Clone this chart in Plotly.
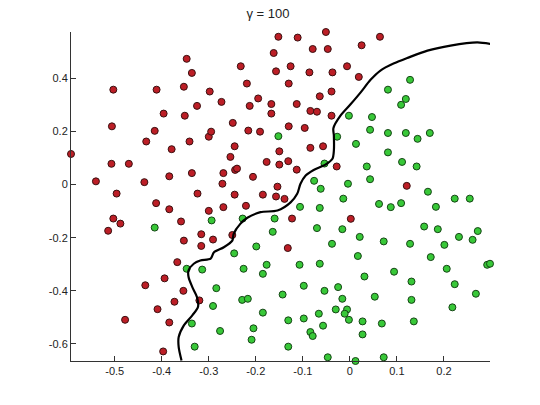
import plotly.graph_objects as go

red_x = [-0.347, -0.336, -0.503, -0.411, -0.353, -0.298, -0.325, -0.396, -0.351, -0.506,
         -0.415, -0.433, -0.341, -0.379, -0.300, -0.593, -0.507, -0.470, -0.336, -0.384,
         -0.540, -0.437, -0.496, -0.324, -0.412, -0.384, -0.300, -0.503, -0.488, -0.359,
         -0.514, -0.353, -0.316, -0.316, -0.367, -0.394, -0.435, -0.354, -0.373, -0.320,
         -0.409, -0.478, -0.384, -0.397,
         -0.051, -0.152, -0.111, -0.079, -0.047, -0.162, -0.232, -0.126, -0.006, -0.157,
         -0.086, -0.037, -0.219, -0.130, -0.039, -0.064, -0.195, -0.273, -0.213, -0.167,
         -0.113, -0.167, -0.084, -0.070, -0.039, -0.249, -0.130, -0.096, -0.216, -0.191,
         -0.295,
         0.064, 0.025, 0.019, 0.121, 0.002, -0.132,
         -0.245, -0.150, -0.084, -0.057, -0.254, -0.177, -0.150, -0.131, -0.244, -0.240,
         -0.028, -0.113, -0.269, -0.206, -0.271, -0.154, -0.245, -0.185, -0.157, -0.139,
         -0.221, -0.269, -0.123, -0.291, -0.250]
red_y = [0.473, 0.420, 0.357, 0.357, 0.368, 0.350, 0.296, 0.267, 0.259, 0.219,
         0.202, 0.162, 0.162, 0.133, 0.180, 0.115, 0.078, 0.078, 0.043, 0.031,
         0.012, 0.009, -0.034, -0.034, -0.070, -0.093, -0.099, -0.128, -0.147, -0.139,
         -0.174, -0.211, -0.187, -0.231, -0.292, -0.353, -0.379, -0.400, -0.441, -0.436,
         -0.469, -0.509, -0.519, -0.628,
         0.574, 0.556, 0.553, 0.510, 0.510, 0.495, 0.445, 0.445, 0.445, 0.426,
         0.422, 0.422, 0.380, 0.380, 0.350, 0.332, 0.324, 0.311, 0.296, 0.303,
         0.303, 0.267, 0.277, 0.274, 0.259, 0.232, 0.219, 0.213, 0.203, 0.199,
         0.199,
         0.556, 0.524, 0.405, -0.005, -0.129, -0.239,
         0.144, 0.125, 0.138, 0.144, 0.104, 0.085, 0.075, 0.088, 0.055, 0.060,
         0.068, 0.056, 0.043, 0.029, 0.003, -0.008, -0.038, -0.038, -0.045, -0.054,
         -0.080, -0.085, -0.128, -0.207, -0.190]

green_x = [-0.415, -0.347, -0.314, -0.336, -0.330, -0.002, -0.152, -0.027,
           0.128, 0.081, 0.119, 0.109, 0.047, 0.043, 0.081, 0.119, 0.170, 0.144,
           0.013, 0.081, 0.111, 0.036, 0.142, 0.043, -0.004, 0.166, -0.014, 0.223,
           0.255, 0.062, 0.087, 0.109, 0.183, -0.016, 0.158, 0.187, 0.021, 0.232,
           0.272, 0.261, 0.072, 0.128, 0.201,
           0.017, 0.172, 0.292, 0.298, 0.206, 0.094, 0.031, 0.131, 0.223, 0.268,
           0.053, 0.131, -0.016, 0.218, -0.006, -0.011, -0.002, 0.027, 0.068, 0.136,
           0.027, 0.072, 0.012,
           -0.199, -0.038, -0.246, -0.226, -0.177, -0.185, -0.107, -0.064, -0.284, -0.098,
           -0.054, -0.025, -0.143, -0.229, -0.217, -0.291, -0.030, -0.185, -0.066, -0.131,
           -0.098, -0.057, -0.276, -0.205, -0.084, -0.079, -0.209, -0.131, -0.047,
           -0.054, -0.076, -0.062, -0.106, -0.064, -0.294, -0.228, -0.160, -0.164, -0.070]
green_y = [-0.162, -0.317, -0.320, -0.523, -0.610, 0.259, 0.182, 0.180,
           0.394, 0.357, 0.322, 0.300, 0.254, 0.206, 0.194, 0.194, 0.194, 0.172,
           0.153, 0.121, 0.085, 0.068, 0.068, 0.020, 0.003, -0.027, -0.053, -0.053,
           -0.053, -0.073, -0.085, -0.070, -0.084, -0.168, -0.158, -0.168, -0.197, -0.197,
           -0.175, -0.208, -0.214, -0.223, -0.227,
           -0.269, -0.273, -0.302, -0.298, -0.317, -0.328, -0.346, -0.365, -0.375, -0.411,
           -0.422, -0.434, -0.430, -0.462, -0.470, -0.486, -0.509, -0.515, -0.523, -0.515,
           -0.564, -0.650, -0.664,
           -0.233, -0.223, -0.259, -0.317, -0.302, -0.336, -0.302, -0.298, -0.390, -0.381,
           -0.400, -0.386, -0.414, -0.434, -0.430, -0.457, -0.470, -0.482, -0.486, -0.511,
           -0.504, -0.531, -0.551, -0.541, -0.555, -0.570, -0.584, -0.610, -0.650,
           0.079, 0.014, -0.016, -0.084, -0.088, -0.135, -0.128, -0.128, -0.178, -0.164]

boundary_x = [-0.358, -0.364, -0.364, -0.353, -0.335, -0.323, -0.325, -0.335, -0.343, -0.343,
              -0.332, -0.318, -0.296, -0.289, -0.268, -0.250, -0.247, -0.233, -0.218, -0.190,
              -0.154, -0.126, -0.112, -0.105, -0.094, -0.077, -0.052, -0.037, -0.034, -0.034,
              -0.035, -0.020, 0.001, 0.023, 0.044, 0.065, 0.094, 0.122, 0.165, 0.214,
              0.271, 0.299]
boundary_y = [-0.662, -0.612, -0.574, -0.530, -0.492, -0.461, -0.424, -0.386, -0.348, -0.323,
              -0.298, -0.286, -0.279, -0.255, -0.236, -0.211, -0.185, -0.148, -0.125, -0.104,
              -0.098, -0.067, -0.035, 0.003, 0.034, 0.055, 0.075, 0.097, 0.128, 0.184,
              0.212, 0.259, 0.301, 0.347, 0.394, 0.429, 0.456, 0.476, 0.504, 0.523,
              0.535, 0.529]

x_ticks = [-0.5, -0.4, -0.3, -0.2, -0.1, 0, 0.1, 0.2]
x_tick_text = ["-0.5", "-0.4", "-0.3", "-0.2", "-0.1", "0", "0.1", "0.2"]
y_ticks = [-0.6, -0.4, -0.2, 0, 0.2, 0.4]
y_tick_text = ["-0.6", "-0.4", "-0.2", "0", "0.2", "0.4"]

fig = go.Figure()
fig.add_trace(go.Scatter(x=red_x, y=red_y, mode="markers", cliponaxis=False, hoverinfo="skip",
                         marker=dict(size=7, color="#bc1e26", line=dict(color="#3a1010", width=1))))
fig.add_trace(go.Scatter(x=green_x, y=green_y, mode="markers", cliponaxis=False, hoverinfo="skip",
                         marker=dict(size=7, color="#38c838", line=dict(color="#154515", width=1))))
fig.add_trace(go.Scatter(x=boundary_x, y=boundary_y, mode="lines", cliponaxis=False, hoverinfo="skip",
                         line=dict(color="black", width=2.2, shape="spline", smoothing=0.8)))

axis_common = dict(showgrid=False, zeroline=False, showline=True, linecolor="#333333", linewidth=1,
                   ticks="inside", ticklen=5, tickcolor="#333333",
                   tickfont=dict(family="Liberation Sans, Arial, sans-serif", size=11, color="#222222"))
fig.update_layout(
    width=540, height=405,
    margin=dict(l=71, r=50, t=32, b=44),
    paper_bgcolor="white", plot_bgcolor="white",
    showlegend=False,
    hovermode=False,
    title=dict(text="γ = 100", x=268/540, xref="container", xanchor="center",
               y=1 - 13/405, yref="container", yanchor="middle",
               font=dict(family="Liberation Sans, Arial, sans-serif", size=13, color="#222222")),
    xaxis=dict(range=[-0.593, 0.298], tickvals=x_ticks, ticktext=x_tick_text, **axis_common),
    yaxis=dict(range=[-0.664, 0.574], tickvals=y_ticks, ticktext=y_tick_text, **axis_common),
)
fig.write_html("out.html", config={"displayModeBar": False},
               post_script="document.body.style.margin='0';")
